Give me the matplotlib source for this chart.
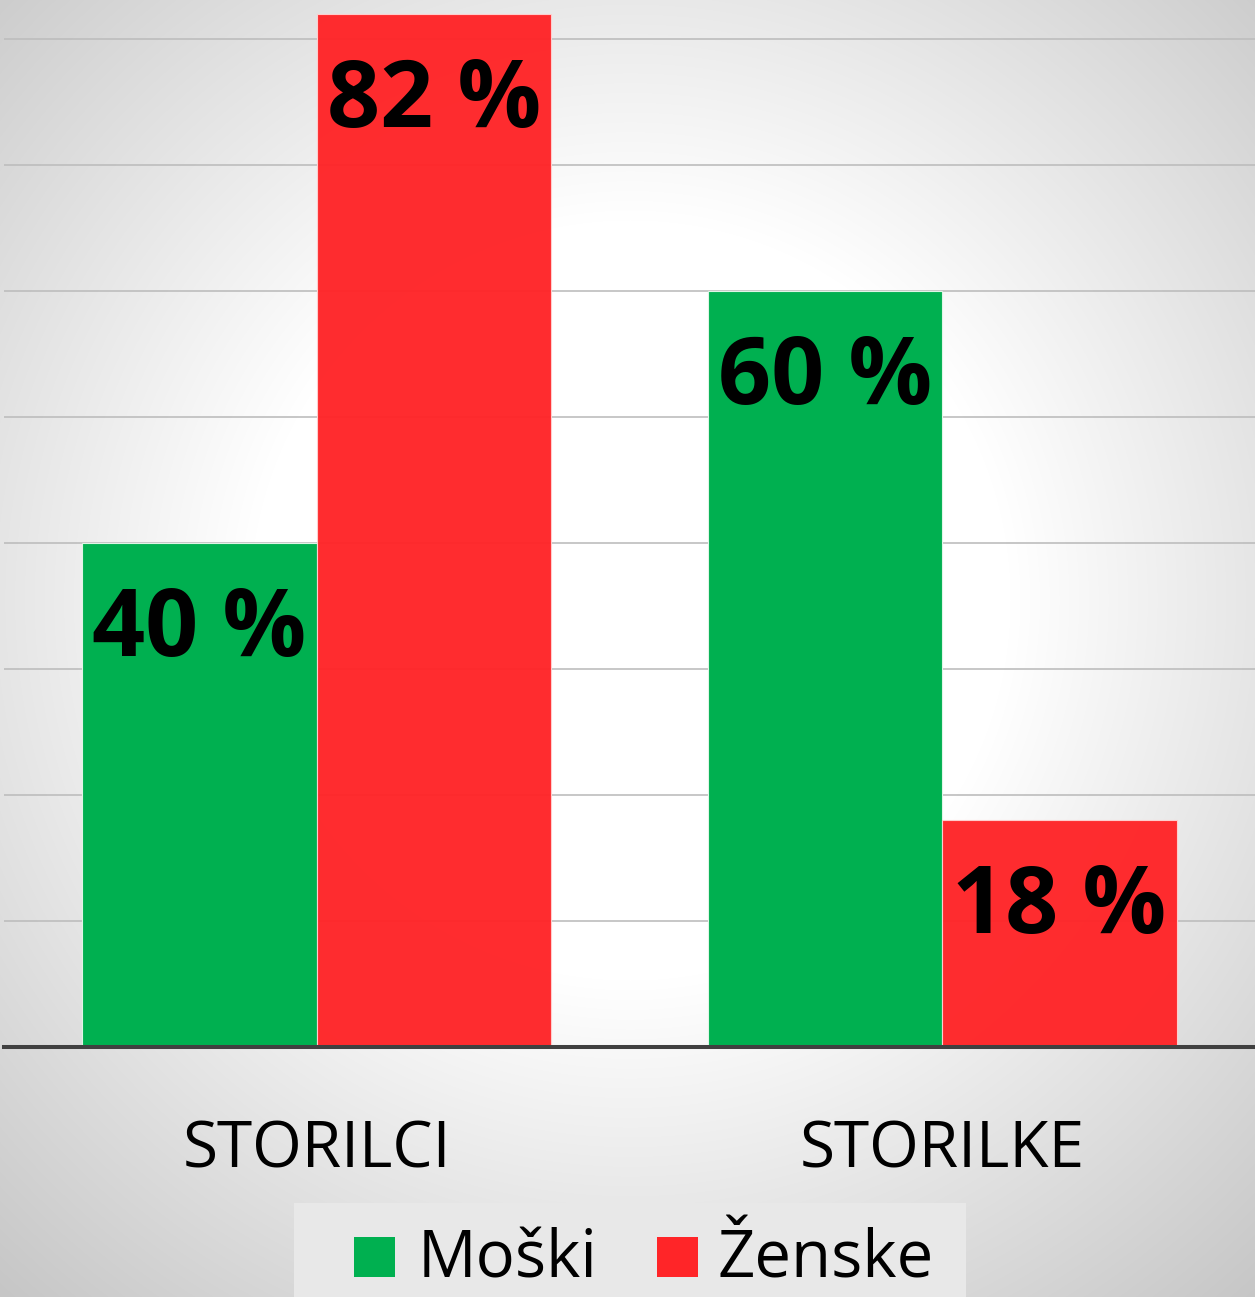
import numpy as np
import matplotlib
matplotlib.use("Agg")
import matplotlib.pyplot as plt
from matplotlib.patches import Rectangle
import matplotlib.transforms as mtransforms

categories = ["STORILCI", "STORILKE"]
series_names = ["Moški", "Ženske"]
moski = [40, 60]
zenske = [82, 18]
value_labels_moski = ["40 %", "60 %"]
value_labels_zenske = ["82 %", "18 %"]

W, H = 1255, 1297
DPI = 100
fig = plt.figure(figsize=(W / DPI, H / DPI), dpi=DPI)

def fx(x):
    return x / W

def fy(y):
    return 1 - y / H

# background radial gradient
bg = fig.add_axes([0, 0, 1, 1], zorder=-10)
yy, xx = np.mgrid[0:H, 0:W]
cx, cy = 630, 600
r = np.sqrt((xx - cx) ** 2 + (yy - cy) ** 2)
d = np.clip(r - 380, 0, None)
val = 1 - 0.0004 * d - 0.00000004 * d ** 2 * 0
val = np.clip(val, 0.78, 1)
img = np.dstack([val, val, val])
bg.imshow(img, aspect="auto", extent=[0, 1, 0, 1], interpolation="bilinear")
bg.set_axis_off()

GREEN = "#00B050"
RED = "#FF2528"

ax_bottom = 1047
ax = fig.add_axes([fx(4), fy(ax_bottom), fx(W) - fx(4), 1 - fy(ax_bottom)])
ax.set_facecolor("none")
ax.set_xlim(-0.5, 1.5)
ax.set_ylim(0, ax_bottom / 12.6)
ax.set_yticks(np.arange(10, 90, 10))
ax.yaxis.grid(True, color="#bdbdbd", linewidth=1.2)
ax.set_axisbelow(True)
for s in ax.spines.values():
    s.set_visible(False)
ax.tick_params(left=False, bottom=False, labelleft=False, labelbottom=False)

x = np.arange(len(categories))
bw = 0.375
b1 = ax.bar(x - bw / 2, moski, bw, color=GREEN, edgecolor="#dff5e6", linewidth=0.8, zorder=2)
b2 = ax.bar(x + bw / 2, zenske, bw, color=RED, edgecolor="#ffd0d0", linewidth=0.8, alpha=0.97, zorder=2)
ax.axhline(0, color="#404040", linewidth=2.9, zorder=3, clip_on=False)

lab_font = "Open Sans"
for bars, labs in ((b1, value_labels_moski), (b2, value_labels_zenske)):
    for rect, lab in zip(bars, labs):
        ax.annotate(lab, (rect.get_x() + rect.get_width() / 2, rect.get_height()),
                    xytext=(0, -113), textcoords="offset pixels",
                    ha="center", va="baseline", fontsize=67, fontweight="bold",
                    family=lab_font, color="black", zorder=4)

trans = mtransforms.blended_transform_factory(ax.transData, ax.transAxes)
for xi, cat in zip(x, categories):
    ax.text(xi, -120 / ax_bottom, cat, transform=trans, ha="center", va="baseline",
            fontsize=46, family=lab_font, color="black")

# legend
fig.add_artist(Rectangle((fx(294), fy(1297)), fx(966) - fx(294), fy(1203) - fy(1297),
                         transform=fig.transFigure, facecolor="#e8e8e8", edgecolor="none", zorder=1))
leg_items = [(354, 418, GREEN), (657, 718, RED)]
for (sx, tx, col), name in zip(leg_items, series_names):
    fig.add_artist(Rectangle((fx(sx), fy(1277)), fx(41), fy(1237) - fy(1277),
                             transform=fig.transFigure, facecolor=col, edgecolor="none", zorder=2))
    fig.text(fx(tx), fy(1278), name, ha="left", va="baseline", fontsize=47,
             family=lab_font, color="black", zorder=3)

fig.savefig("out.png", dpi=DPI)
